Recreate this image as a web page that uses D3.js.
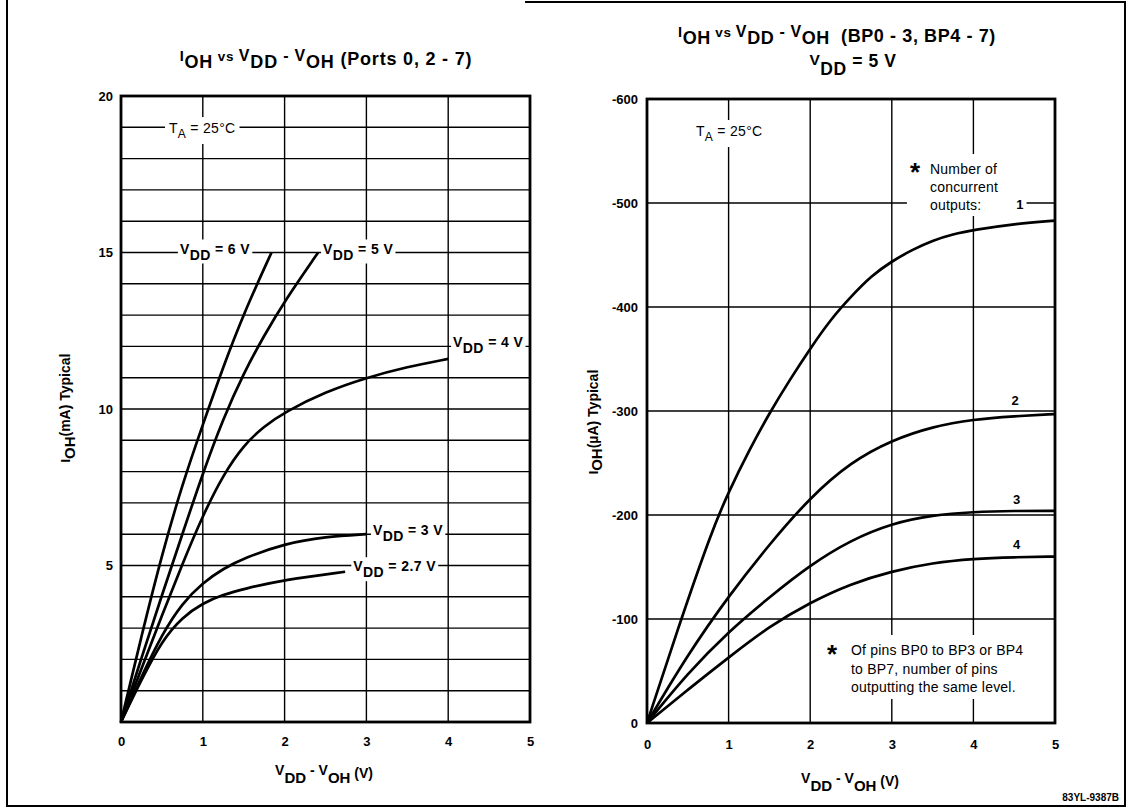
<!DOCTYPE html>
<html><head><meta charset="utf-8">
<script src="https://cdn.jsdelivr.net/npm/d3@7"></script>
<style>
html,body{margin:0;padding:0;background:#fff;}
svg{display:block;}
text{font-family:"Liberation Sans",Arial,Helvetica,sans-serif;fill:#000;white-space:pre;}
</style></head><body>
<svg id="c" width="1131" height="808"></svg>
<script>
// ---------------- DATA ----------------
const xTicks = [0, 1, 2, 3, 4, 5];
const leftYTicks = [5, 10, 15, 20];
const rightYTicks = [0, -100, -200, -300, -400, -500, -600];

// Left chart: IOH (mA) vs VDD-VOH (V)
const vdd6 = [[0,0],[0.25,2.75],[0.5,5.35],[0.75,7.6],[1.0,9.5],[1.25,11.35],[1.5,13.05],[1.84,15]];
const vdd5 = [[0,0],[0.25,2.05],[0.5,4.05],[0.75,6.0],[1.0,7.95],[1.25,9.7],[1.5,11.15],[1.75,12.35],[2.0,13.45],[2.41,15]];
const vdd4 = [[0,0],[0.25,1.7],[0.5,3.4],[0.75,5.05],[1.0,6.6],[1.25,7.9],[1.5,8.85],[1.75,9.45],[2.0,9.9],[2.5,10.55],[3.0,11.0],[3.5,11.35],[4.0,11.6]];
const vdd3 = [[0,0],[0.25,1.45],[0.5,2.8],[0.75,3.8],[1.0,4.45],[1.25,4.9],[1.5,5.23],[2.0,5.7],[2.5,5.92],[3.0,6.0]];
const vdd27 = [[0,0],[0.25,1.35],[0.5,2.6],[0.75,3.35],[1.0,3.8],[1.25,4.07],[1.5,4.25],[2.0,4.55],[2.74,4.8]];
const leftLabels = ["6 V", "5 V", "4 V", "3 V", "2.7 V"];

// Right chart: IOH (uA) vs VDD-VOH (V), by number of concurrent outputs
const out1 = [[0,0],[0.4,-96],[0.8,-186],[1.0,-222],[1.25,-262],[1.5,-298],[1.75,-330],[2.0,-360],[2.25,-388],[2.5,-410],[2.75,-430],[3.0,-444],[3.25,-455],[3.5,-464],[3.75,-470],[4.0,-474],[4.5,-480],[5,-483]];
const out2 = [[0,0],[0.5,-66],[1.0,-122],[1.5,-172],[2.0,-217],[2.5,-251],[3.0,-272],[3.5,-285],[4.0,-292],[4.5,-295],[5,-297]];
const out3 = [[0,0],[0.5,-48],[1.0,-88],[1.5,-121],[2.0,-152],[2.5,-176],[3.0,-192],[3.5,-200],[4.0,-203],[4.5,-204],[5,-204]];
const out4 = [[0,0],[0.5,-32],[1.0,-63],[1.5,-93],[2.0,-116],[2.5,-134],[3.0,-146],[3.5,-154],[4.0,-158],[4.5,-159.5],[5,-160]];
const rightLabels = ["1", "2", "3", "4"];

// ---------------- LAYOUT ----------------
const svg = d3.select("#c");
const L = {x0:121, x1:530, yb:722, yt:96};
const R = {x0:647, x1:1055, yb:723, yt:99};
const xL = d3.scaleLinear().domain([0,5]).range([L.x0, L.x1]);
const yL = d3.scaleLinear().domain([0,20]).range([L.yb, L.yt]);
const xR = d3.scaleLinear().domain([0,5]).range([R.x0, R.x1]);
const yR = d3.scaleLinear().domain([0,-600]).range([R.yb, R.yt]);

function rich(parent, x, y, segs, opts = {}) {
  const t = parent.append("text")
    .attr("x", x).attr("y", y)
    .attr("text-anchor", opts.anchor || "start")
    .attr("font-weight", opts.weight || "bold");
  if (opts.ls) t.attr("letter-spacing", opts.ls);
  if (opts.transform) t.attr("transform", opts.transform);
  let prev = 0;
  segs.forEach(([s, size, off]) => {
    t.append("tspan").attr("dy", off - prev).attr("font-size", size).text(s);
    prev = off;
  });
  return t;
}
function bgFor(layer, node, padX = 3, padY = 2) {
  const b = node.getBBox();
  layer.append("rect").attr("x", b.x - padX).attr("y", b.y - padY)
    .attr("width", b.width + 2 * padX).attr("height", b.height + 2 * padY)
    .attr("fill", "#fff");
}

// outer frame (scanned; top edge only partly visible)
const frame = svg.append("g").attr("stroke", "#000").attr("stroke-width", 2).attr("fill", "none");
frame.append("path").attr("d", "M7,0 L7,806 L1125,806 L1125,2 L525,2");

function drawPlot(cfg) {
  const {x, y, box, yTicksH, xGrid} = cfg;
  const g = svg.append("g");
  const grid = g.append("g").attr("stroke", "#000").attr("stroke-width", 1.4);
  yTicksH.forEach(v => grid.append("line").attr("x1", box.x0).attr("x2", box.x1).attr("y1", y(v)).attr("y2", y(v)));
  xGrid.forEach(v => grid.append("line").attr("x1", x(v)).attr("x2", x(v)).attr("y1", box.yb).attr("y2", box.yt));
  const bg = g.append("g");
  const curves = g.append("g");
  const labels = g.append("g");
  g.append("rect").attr("x", box.x0).attr("y", box.yt)
    .attr("width", box.x1 - box.x0).attr("height", box.yb - box.yt)
    .attr("fill", "none").attr("stroke", "#000").attr("stroke-width", 2.8);
  return {g, bg, curves, labels};
}
const line = (xs, ys) => d3.line().x(d => xs(d[0])).y(d => ys(d[1])).curve(d3.curveBasis);

// ---------------- LEFT CHART ----------------
const left = drawPlot({x: xL, y: yL, box: L, yTicksH: d3.range(1, 20), xGrid: [1,2,3,4]});
[vdd6, vdd5, vdd4, vdd3, vdd27].forEach(s => {
  left.curves.append("path").attr("d", line(xL, yL)(s))
    .attr("fill", "none").attr("stroke", "#000").attr("stroke-width", 2.7).attr("stroke-linejoin", "round");
});
// VDD labels: [index, x (V), y (mA)]
const leftLabelPos = [[0, 0.72, 15], [1, 2.47, 15], [2, 4.06, 12], [3, 3.08, 6], [4, 2.84, 4.85]];
leftLabelPos.forEach(([i, vx, vy]) => {
  const t = rich(left.labels, xL(vx), yL(vy) + 1, [["V",14,0],["DD",14,6],[" = " + leftLabels[i],14,0]], {ls: 0.4});
  bgFor(left.bg, t.node(), 2, 1);
});
const taL = rich(left.labels, 169, 133, [["T",14,0],["A",12,5],[" = 25°C",14,0]], {weight: "normal", ls: 0.3});
bgFor(left.bg, taL.node(), 4, 3);

// axes (tick labels only)
const axLX = svg.append("g").attr("transform", `translate(0,${L.yb})`)
  .call(d3.axisBottom(xL).tickValues(xTicks).tickSize(0).tickFormat(d => String(d)));
const axLY = svg.append("g").attr("transform", `translate(${L.x0},0)`)
  .call(d3.axisLeft(yL).tickValues(leftYTicks).tickSize(0).tickFormat(d => String(d)));
const axRX = svg.append("g").attr("transform", `translate(0,${R.yb})`)
  .call(d3.axisBottom(xR).tickValues(xTicks).tickSize(0).tickFormat(d => String(d)));
const axRY = svg.append("g").attr("transform", `translate(${R.x0},0)`)
  .call(d3.axisLeft(yR).tickValues(rightYTicks).tickSize(0).tickFormat(d => String(d)));
[axLX, axLY, axRX, axRY].forEach(a => {
  a.select(".domain").remove();
  a.selectAll("text").attr("font-family", null).attr("font-size", 13).attr("font-weight", "bold").attr("fill", "#000");
});
axLX.selectAll("text").attr("dy", null).attr("y", 24);
axRX.selectAll("text").attr("dy", null).attr("y", 26);
axLY.selectAll("text").attr("x", -8);
axRY.selectAll("text").attr("x", -9);

// titles
rich(svg, 326, 61, [["I",14.5,0],["OH",18,7],[" vs ",13.5,0],["V",16,0],["DD",18,7],[" - ",16,0],["V",16,0],["OH",18,7],[" (Ports 0, 2 - 7)",18,4]], {anchor: "middle", ls: 0.8});
rich(svg, 837, 37, [["I",14.5,0],["OH",18,7],[" vs ",13.5,0],["V",16,0],["DD",18,7],[" - ",16,0],["V",16,0],["OH",18,7],["  (BP0 - 3, BP4 - 7)",18,5]], {anchor: "middle", ls: 0.6});
rich(svg, 853, 65, [["V",15.5,0],["DD",17.5,10],[" = 5 V",17.5,2]], {anchor: "middle", ls: 0.6});

// axis titles
rich(svg, 324, 775, [["V",14,0],["DD",15,8],[" - ",14,0],["V",14,0],["OH",15,8],[" (V)",14,3]], {anchor: "middle"});
rich(svg, 850, 783, [["V",14,0],["DD",15,8],[" - ",14,0],["V",14,0],["OH",15,8],[" (V)",14,3]], {anchor: "middle"});
rich(svg, 0, 0, [["I",12.5,0],["OH",15,5],["(mA) Typical",14,0]], {anchor: "middle", transform: "translate(70,408) rotate(-90)"});
rich(svg, 0, 0, [["I",12.5,0],["OH",15,4],["(µA) Typical",14,0]], {anchor: "middle", transform: "translate(598,422) rotate(-90)"});

// ---------------- RIGHT CHART ----------------
const right = drawPlot({x: xR, y: yR, box: R, yTicksH: [-100,-200,-300,-400,-500], xGrid: [1,2,3,4]});
[out1, out2, out3, out4].forEach(s => {
  right.curves.append("path").attr("d", line(xR, yR)(s))
    .attr("fill", "none").attr("stroke", "#000").attr("stroke-width", 2.7).attr("stroke-linejoin", "round");
});
const taR = rich(right.labels, 696, 136, [["T",14,0],["A",12,5],[" = 25°C",14,0]], {weight: "normal", ls: 0.3});
bgFor(right.bg, taR.node(), 4, 3);

// note block with "1"
const note = right.labels.append("g");
note.append("text").attr("x", 915).attr("y", 181).attr("text-anchor", "middle").attr("font-size", 26).attr("font-weight", "bold").text("*");
["Number of", "concurrent", "outputs:"].forEach((s, i) =>
  note.append("text").attr("x", 930).attr("y", 174 + i * 18).attr("font-size", 14).attr("letter-spacing", 0.2).text(s));
// curve count labels: [index, x (V), y (uA)]
const rightLabelPos = [[0, 4.57, -494], [1, 4.51, -306], [2, 4.53, -211], [3, 4.53, -167]];
rightLabelPos.forEach(([i, vx, vy], k) => {
  const par = k === 0 ? note : right.labels;
  par.append("text").attr("x", xR(vx)).attr("y", yR(vy)).attr("text-anchor", "middle")
    .attr("font-size", 13).attr("font-weight", "bold").text(rightLabels[i]);
});
bgFor(right.bg, note.node(), 3, 3);

const foot = right.labels.append("g");
foot.append("text").attr("x", 832).attr("y", 663).attr("text-anchor", "middle").attr("font-size", 26).attr("font-weight", "bold").text("*");
["Of pins BP0 to BP3 or BP4", "to BP7, number of pins", "outputting the same level."].forEach((s, i) =>
  foot.append("text").attr("x", 851).attr("y", 655 + i * 18.5).attr("font-size", 14).attr("letter-spacing", 0.2).text(s));
bgFor(right.bg, foot.node(), 4, 4);

// figure code
svg.append("text").attr("x", 1119).attr("y", 801).attr("text-anchor", "end")
  .attr("font-size", 10).attr("font-weight", "bold").text("83YL-9387B");
</script></body></html>
